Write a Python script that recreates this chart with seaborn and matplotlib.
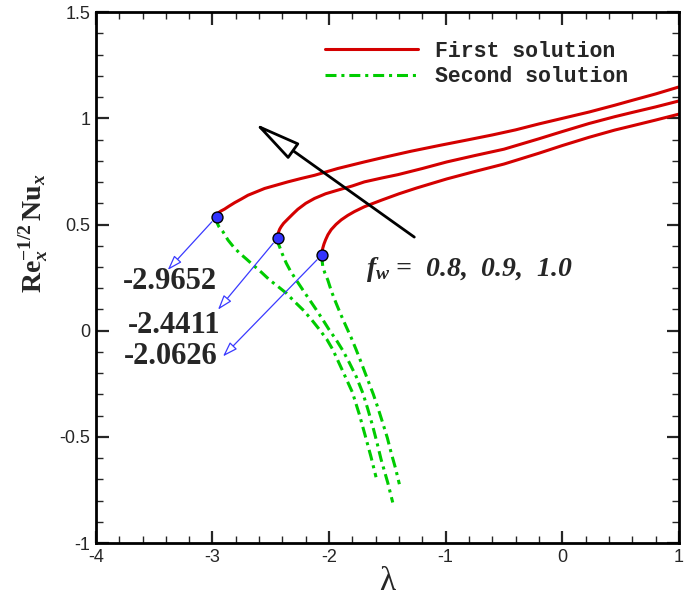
import numpy as np
import pandas as pd
import seaborn as sns
import matplotlib.pyplot as plt
from matplotlib.lines import Line2D
from matplotlib.ticker import MultipleLocator, FuncFormatter

# critical points (lambda_c, Nu at turning point) for fw = 0.8, 0.9, 1.0
fw_values = [0.8, 0.9, 1.0]
lam_crit = [-2.9652, -2.4411, -2.0626]
nu_crit = [0.537, 0.437, 0.357]

# first solution (upper branch)
first_lam_08 = [-2.9652, -2.962, -2.95, -2.93, -2.896, -2.86, -2.81, -2.75, -2.696, -2.62, -2.553, -2.45,
                -2.354, -2.24, -2.125, -1.926, -1.697, -1.55, -1.30, -1.05, -0.80, -0.60, -0.40, -0.20,
                0.00, 0.23, 0.45, 0.60, 0.80, 1.00]
first_nu_08 = [0.537, 0.546, 0.555, 0.563, 0.573, 0.586, 0.603, 0.621, 0.638, 0.655, 0.670, 0.686,
               0.701, 0.717, 0.732, 0.764, 0.795, 0.814, 0.845, 0.873, 0.900, 0.922, 0.946, 0.974,
               1.000, 1.030, 1.062, 1.085, 1.115, 1.148]
first_lam_09 = [-2.4411, -2.439, -2.433, -2.424, -2.41, -2.39, -2.354, -2.31, -2.268, -2.20, -2.125,
                -2.03, -1.926, -1.80, -1.697, -1.55, -1.41, -1.20, -0.99, -0.75, -0.50, -0.20, 0.00,
                0.23, 0.45, 0.60, 0.80, 1.00]
first_nu_09 = [0.437, 0.452, 0.465, 0.478, 0.491, 0.506, 0.526, 0.550, 0.572, 0.600, 0.623,
               0.645, 0.662, 0.682, 0.701, 0.719, 0.735, 0.764, 0.795, 0.825, 0.855, 0.904, 0.938,
               0.976, 1.008, 1.028, 1.054, 1.082]
first_lam_10 = [-2.0626, -2.060, -2.054, -2.044, -2.03, -2.01, -1.982, -1.94, -1.896, -1.84, -1.783, -1.697,
                -1.55, -1.40, -1.25, -0.99, -0.75, -0.50, -0.20, 0.00, 0.23, 0.45, 0.60, 0.80, 1.00]
first_nu_10 = [0.357, 0.372, 0.389, 0.408, 0.428, 0.452, 0.476, 0.501, 0.522, 0.543, 0.561, 0.584,
               0.615, 0.645, 0.672, 0.715, 0.750, 0.785, 0.836, 0.872, 0.911, 0.945, 0.965, 0.992, 1.020]

# second solution (lower branch)
second_lam_08 = [-2.9652, -2.963, -2.958, -2.945, -2.93, -2.91, -2.867, -2.82, -2.767, -2.71, -2.653, -2.58,
                 -2.510, -2.44, -2.367, -2.30, -2.225, -2.15, -2.082, -2.02, -1.968, -1.883, -1.80, -1.74,
                 -1.682, -1.64, -1.597]
second_nu_08 = [0.537, 0.520, 0.505, 0.490, 0.479, 0.466, 0.427, 0.395, 0.365, 0.338, 0.310, 0.275,
                0.239, 0.209, 0.177, 0.139, 0.099, 0.052, 0.005, -0.040, -0.089, -0.190, -0.290, -0.395,
                -0.510, -0.595, -0.690]
second_lam_09 = [-2.4411, -2.439, -2.434, -2.425, -2.40, -2.367, -2.33, -2.282, -2.22, -2.168, -2.11,
                 -2.054, -2.00, -1.940, -1.88, -1.825, -1.768, -1.711, -1.67, -1.626, -1.59, -1.554,
                 -1.497, -1.454]
second_nu_09 = [0.437, 0.422, 0.408, 0.396, 0.360, 0.318, 0.280, 0.239, 0.188, 0.146, 0.099,
                0.052, 0.005, -0.042, -0.095, -0.152, -0.215, -0.293, -0.365, -0.449, -0.525, -0.606,
                -0.715, -0.809]
second_lam_10 = [-2.0626, -2.061, -2.058, -2.054, -2.035, -2.011, -1.98, -1.940, -1.90, -1.854, -1.81,
                 -1.768, -1.73, -1.69, -1.655, -1.62, -1.58, -1.54, -1.50, -1.468, -1.43, -1.397]
second_nu_10 = [0.357, 0.340, 0.322, 0.302, 0.270, 0.239, 0.186, 0.130, 0.077, 0.020, -0.033,
                -0.089, -0.142, -0.200, -0.250, -0.300, -0.365, -0.434, -0.505, -0.574, -0.648, -0.723]

crit_labels = ['-2.9652', '-2.4411', '-2.0626']

first = [(first_lam_08, first_nu_08), (first_lam_09, first_nu_09), (first_lam_10, first_nu_10)]
second = [(second_lam_08, second_nu_08), (second_lam_09, second_nu_09), (second_lam_10, second_nu_10)]

sns.set_style('ticks')
plt.rcParams['font.family'] = ['Liberation Sans', 'DejaVu Sans']
plt.rcParams['axes.unicode_minus'] = False
plt.rcParams['mathtext.fontset'] = 'custom'
plt.rcParams['mathtext.rm'] = 'Liberation Serif:bold'
plt.rcParams['mathtext.bf'] = 'Liberation Serif:bold'
plt.rcParams['mathtext.it'] = 'Liberation Serif:italic:bold'

red = '#d40000'
green = '#00cc00'
dashdot = (0, (3.6, 1.6, 1.0, 1.6))

fig = plt.figure(figsize=(6.85, 6.12), dpi=100)
ax = fig.add_axes([0.140, 0.1127, 0.851, 0.8673])

for lam, nu in first:
    df = pd.DataFrame({'lam': lam, 'nu': nu})
    sns.lineplot(data=df, x='lam', y='nu', sort=False, estimator=None,
                 color=red, linewidth=2.2, ax=ax, legend=False)

for lam, nu in second:
    df = pd.DataFrame({'lam': lam, 'nu': nu})
    sns.lineplot(data=df, x='lam', y='nu', sort=False, estimator=None,
                 color=green, linewidth=2.2, linestyle=dashdot, ax=ax, legend=False)

crit = pd.DataFrame({'lam': lam_crit, 'nu': nu_crit})
sns.scatterplot(data=crit, x='lam', y='nu', color='#3333ff', edgecolor='black',
                linewidth=1, s=62, zorder=5, ax=ax, legend=False)

# labels for critical values, with blue open arrows
label_pos = [(-3.366, 0.230), (-3.328, 0.023), (-3.354, -0.122)]
arrow_tip = [(-3.384, 0.286), (-2.953, 0.099), (-2.910, -0.121)]
for lab, (tx, ty), tip, lc, nc in zip(crit_labels, label_pos, arrow_tip, lam_crit, nu_crit):
    ax.text(tx, ty, lab, ha='center', va='center', fontsize=22,
            family='Liberation Serif', weight='bold')
    ax.annotate('', xy=tip, xytext=(lc, nc),
                arrowprops=dict(arrowstyle='-|>,head_length=0.9,head_width=0.3',
                                fc='white', ec='#3a3aff', lw=0.9,
                                shrinkA=5, shrinkB=0))

# big black arrow showing increasing fw direction
ax.annotate('', xy=(-2.639, 0.977), xytext=(-1.269, 0.441),
            arrowprops=dict(arrowstyle='-|>,head_length=1.45,head_width=0.3',
                            fc='white', ec='black', lw=2, mutation_scale=20,
                            shrinkA=0, shrinkB=0))

ax.text(-1.68, 0.286, r'$f_w$ =  0.8,  0.9,  1.0', fontsize=20,
        family='Liberation Serif', weight='bold', style='italic',
        ha='left', va='center')

ax.set_xlim(-4, 1)
ax.set_ylim(-1, 1.5)
ax.xaxis.set_major_locator(MultipleLocator(1))
ax.xaxis.set_minor_locator(MultipleLocator(0.2))
ax.yaxis.set_major_locator(MultipleLocator(0.5))
ax.yaxis.set_minor_locator(MultipleLocator(0.1))
ax.yaxis.set_major_formatter(FuncFormatter(lambda v, p: f'{v:g}'))
ax.xaxis.set_major_formatter(FuncFormatter(lambda v, p: f'{v:g}'))
ax.tick_params(which='both', direction='in', top=True, right=True, labelsize=13, pad=4)
ax.tick_params(which='major', length=9, width=1.6)
ax.tick_params(which='minor', length=5, width=1)
for sp in ax.spines.values():
    sp.set_linewidth(2)
    sp.set_color('black')

ax.set_xlabel('λ', family='Liberation Serif', fontsize=24, labelpad=1)
ax.set_ylabel(r'$\mathrm{Re}_x^{-1/2}\,\mathrm{Nu}_x$', fontsize=20)
ax.yaxis.set_label_coords(-0.079, 0.584)

handles = [Line2D([], [], color=red, lw=2.2),
           Line2D([], [], color=green, lw=2.2, linestyle=dashdot)]
ax.legend(handles, ['First solution', 'Second solution'], frameon=False,
          loc='upper left', bbox_to_anchor=(325 / 685, 1 - 41 / 612),
          bbox_transform=fig.transFigure, borderpad=0, borderaxespad=0,
          handlelength=4.3, handletextpad=0.8, labelspacing=0.2,
          prop={'family': 'Liberation Mono', 'weight': 'bold', 'size': 15.5})

fig.savefig('out.png', dpi=100, facecolor='white')
